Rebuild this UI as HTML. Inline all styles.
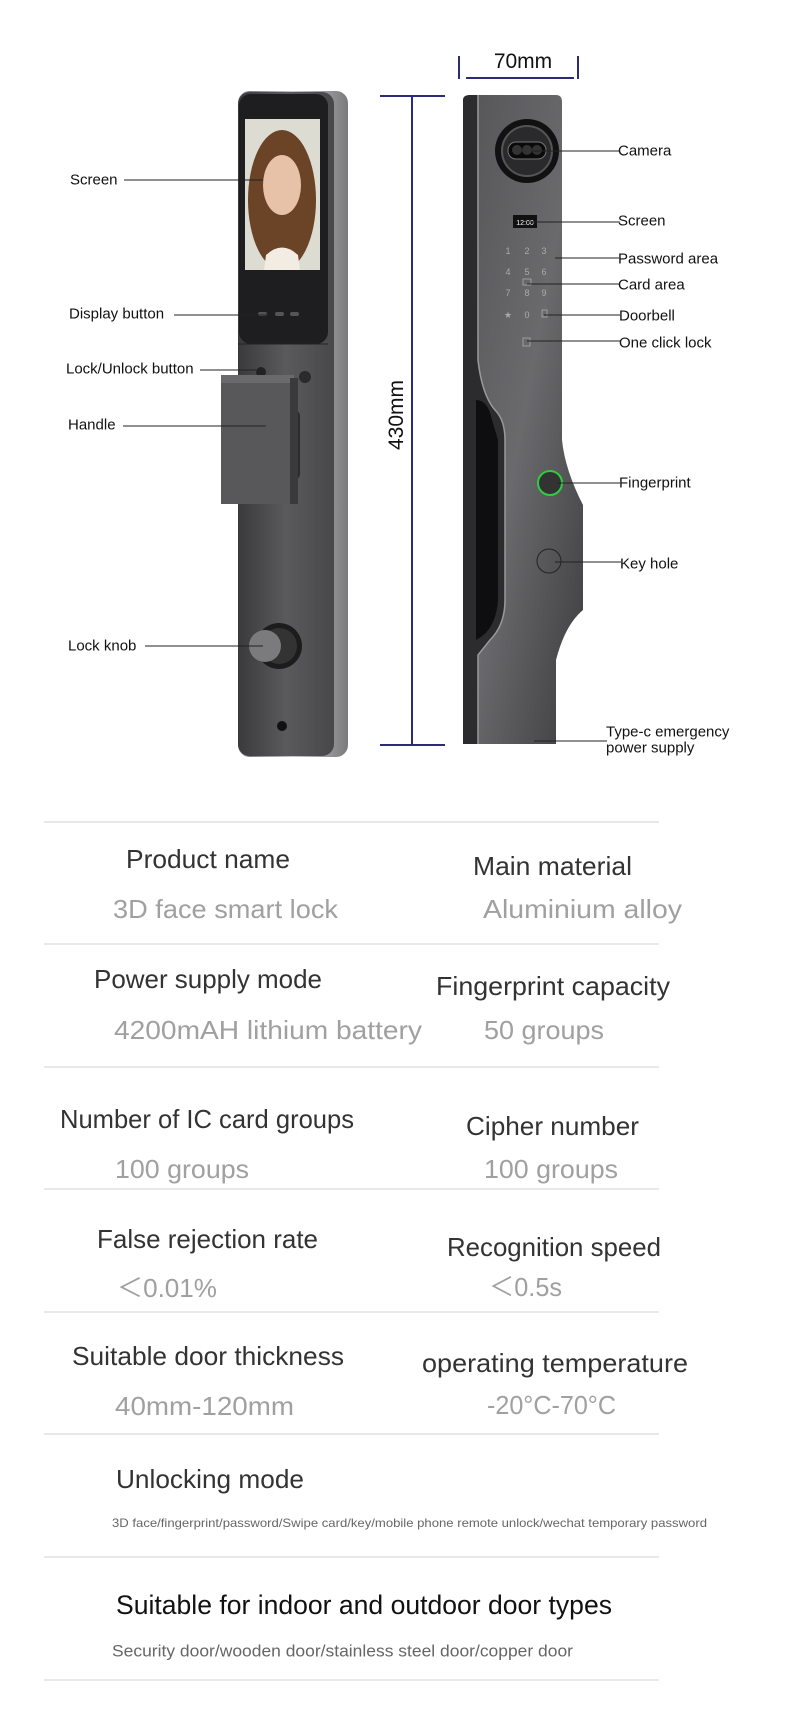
<!DOCTYPE html>
<html><head><meta charset="utf-8"><style>
html,body{margin:0;padding:0;background:#fff;}
svg{display:block;}
.l{font-family:"Liberation Sans",sans-serif;font-size:15px;fill:#111;}
.h{font-family:"Liberation Sans",sans-serif;font-size:26px;fill:#333;}
.v{font-family:"Liberation Sans","Noto Sans CJK SC",sans-serif;font-size:26px;fill:#a0a0a0;}
</style></head><body>
<svg width="790" height="1735" viewBox="0 0 790 1735" xmlns="http://www.w3.org/2000/svg">
<defs>
<linearGradient id="gl" x1="0" x2="1"><stop offset="0" stop-color="#3a3a3c"/><stop offset="0.5" stop-color="#5a5a5c"/><stop offset="1" stop-color="#48484a"/></linearGradient>
<linearGradient id="gr" x1="0" y1="0" x2="1" y2="1"><stop offset="0" stop-color="#555558"/><stop offset="0.5" stop-color="#6a6a6d"/><stop offset="1" stop-color="#3c3c3e"/></linearGradient>
<linearGradient id="rim" x1="0" x2="1"><stop offset="0" stop-color="#6e6e70"/><stop offset="0.5" stop-color="#c8c8ca"/><stop offset="1" stop-color="#7a7a7c"/></linearGradient>
</defs>

<!-- LEFT LOCK -->
<rect x="238" y="91" width="110" height="666" rx="12" fill="url(#rim)"/>
<rect x="238" y="92" width="96" height="664" rx="12" fill="url(#gl)"/>
<rect x="239" y="94" width="89" height="250" rx="12" fill="#1e1e20"/>
<rect x="245" y="119" width="75" height="151" fill="#dcdcd2"/>
<ellipse cx="282" cy="200" rx="34" ry="70" fill="#6b4326"/>
<ellipse cx="282" cy="185" rx="19" ry="30" fill="#e7c2a8"/>
<path d="M266 255 Q282 240 298 255 L300 270 L264 270Z" fill="#f2ece2"/>
<rect x="258" y="312" width="9" height="4" rx="2" fill="#555"/>
<rect x="275" y="312" width="9" height="4" rx="2" fill="#555"/>
<rect x="290" y="312" width="9" height="4" rx="2" fill="#555"/>
<line x1="238" y1="344" x2="328" y2="344" fill="none" stroke="#222" stroke-width="1"/>
<circle cx="261" cy="372" r="5" fill="#222"/>
<circle cx="305" cy="377" r="6" fill="#2a2a2a"/>
<rect x="284" y="410" width="16" height="70" rx="6" fill="#2c2c2e"/>
<rect x="221" y="375" width="73" height="129" fill="#58585a"/>
<rect x="221" y="375" width="73" height="8" fill="#6a6a6c"/>
<rect x="290" y="378" width="8" height="126" fill="#3a3a3c"/>
<circle cx="279" cy="646" r="23" fill="#1c1c1c"/>
<circle cx="279" cy="646" r="18" fill="#333"/>
<circle cx="265" cy="646" r="16" fill="#7b7b7d"/>
<circle cx="282" cy="726" r="5" fill="#111"/>

<!-- RIGHT LOCK -->
<path d="M470 95 L556 95 Q562 95 562 102 L562 440 Q565 470 583 505 L583 610 Q565 625 556 660 L556 744 L468 744 Q463 744 463 738 L463 102 Q463 95 470 95Z" fill="url(#gr)"/>
<path d="M463 100 Q463 95 470 95 L478 95 L478 360 Q482 395 495 410 Q505 420 505 440 L505 600 Q505 625 490 640 L478 655 L478 744 L463 744Z" fill="#2c2c2e"/>
<path d="M476 400 Q488 400 492 420 L498 440 L498 600 Q496 630 476 640Z" fill="#0e0e10"/>
<path d="M478 95 L478 360 Q482 395 495 410 Q505 420 505 440 L505 600 Q505 625 490 640 L478 655 L478 744" fill="none" stroke="#9a9a9c" stroke-width="1.5"/>
<circle cx="527" cy="151" r="32" fill="#111"/>
<circle cx="527" cy="151" r="25" fill="#2a2a2c" stroke="#555" stroke-width="2"/>
<rect x="508" y="142" width="38" height="17" rx="8" fill="#0a0a0a" stroke="#777"/>
<circle cx="517" cy="150" r="5" fill="#333"/><circle cx="527" cy="150" r="5" fill="#333"/><circle cx="537" cy="150" r="5" fill="#333"/>
<rect x="513" y="215" width="24" height="13" fill="#111"/>
<text x="525" y="225" text-anchor="middle" font-family="Liberation Sans,sans-serif" font-size="7" fill="#fff">12:00</text>
<g font-family="Liberation Sans,sans-serif" font-size="9" fill="#aaa" text-anchor="middle">
<text x="508" y="254">1</text><text x="527" y="254">2</text><text x="544" y="254">3</text>
<text x="508" y="275">4</text><text x="527" y="275">5</text><text x="544" y="275">6</text>
<text x="508" y="296">7</text><text x="527" y="296">8</text><text x="544" y="296">9</text>
<text x="508" y="318">★</text><text x="527" y="318">0</text></g>
<rect x="523" y="279" width="8" height="6" fill="none" stroke="#aaa" stroke-width="0.8"/>
<rect x="542" y="310" width="5" height="7" fill="none" stroke="#aaa" stroke-width="0.8"/>
<rect x="523" y="338" width="7" height="8" fill="none" stroke="#aaa" stroke-width="0.8"/>
<circle cx="550" cy="483" r="12" fill="#333" stroke="#2ecc40" stroke-width="2"/>
<circle cx="549" cy="561" r="12" fill="none" stroke="#222" stroke-width="1"/>

<!-- Dimensions -->
<g stroke="#2b2b7a" stroke-width="2" fill="none">
<line x1="459" y1="56" x2="459" y2="79"/><line x1="578" y1="56" x2="578" y2="79"/>
<line x1="466" y1="78" x2="574" y2="78"/>
<line x1="380" y1="96" x2="445" y2="96"/><line x1="380" y1="745" x2="445" y2="745"/>
<line x1="412" y1="96" x2="412" y2="745"/>
</g>
<text x="523" y="68" text-anchor="middle" font-family="Liberation Sans,sans-serif" font-size="21" fill="#111">70mm</text>
<text transform="translate(403,415) rotate(-90)" text-anchor="middle" font-family="Liberation Sans,sans-serif" font-size="21" fill="#111">430mm</text>

<!-- Labels -->
<g stroke="#222" stroke-width="1">
<line x1="124" y1="180" x2="263" y2="180"/>
<line x1="174" y1="315" x2="268" y2="315"/>
<line x1="200" y1="370" x2="256" y2="370"/>
<line x1="123" y1="426" x2="266" y2="426"/>
<line x1="145" y1="646" x2="263" y2="646"/>
<line x1="532" y1="151" x2="620" y2="151"/>
<line x1="527" y1="222" x2="620" y2="222"/>
<line x1="555" y1="258" x2="619" y2="258"/>
<line x1="527" y1="284" x2="619" y2="284"/>
<line x1="544" y1="315" x2="620" y2="315"/>
<line x1="527" y1="341" x2="620" y2="341"/>
<line x1="557" y1="483" x2="620" y2="483"/>
<line x1="555" y1="562" x2="621" y2="562"/>
<line x1="534" y1="741" x2="607" y2="741"/>
</g>
<g class="l" dominant-baseline="central">
<text x="70" y="180" class="l">Screen</text>
<text x="69" y="314" class="l">Display button</text>
<text x="66" y="369" class="l">Lock/Unlock button</text>
<text x="68" y="425" class="l">Handle</text>
<text x="68" y="646" class="l">Lock knob</text>
<text x="618" y="151" class="l">Camera</text>
<text x="618" y="221" class="l">Screen</text>
<text x="618" y="259" class="l">Password area</text>
<text x="618" y="285" class="l">Card area</text>
<text x="619" y="316" class="l">Doorbell</text>
<text x="619" y="343" class="l">One click lock</text>
<text x="619" y="483" class="l">Fingerprint</text>
<text x="620" y="564" class="l">Key hole</text>
<text x="606" y="732" class="l">Type-c emergency</text>
<text x="606" y="748" class="l">power supply</text>
</g>

<!-- Table -->
<g stroke="#d0d0d0" stroke-width="1">
<line x1="44" y1="822" x2="659" y2="822"/><line x1="44" y1="944" x2="659" y2="944"/>
<line x1="44" y1="1067" x2="659" y2="1067"/><line x1="44" y1="1189" x2="659" y2="1189"/>
<line x1="44" y1="1312" x2="659" y2="1312"/><line x1="44" y1="1434" x2="659" y2="1434"/>
<line x1="44" y1="1557" x2="659" y2="1557"/><line x1="44" y1="1680" x2="659" y2="1680"/>
</g>
<g dominant-baseline="central">
<text class="h" x="126" y="859" textLength="164" lengthAdjust="spacingAndGlyphs">Product name</text>
<text class="v" x="113" y="909" textLength="225" lengthAdjust="spacingAndGlyphs">3D face smart lock</text>
<text class="h" x="473" y="866" textLength="159" lengthAdjust="spacingAndGlyphs">Main material</text>
<text class="v" x="483" y="909" textLength="199" lengthAdjust="spacingAndGlyphs">Aluminium alloy</text>
<text class="h" x="94" y="979" textLength="228" lengthAdjust="spacingAndGlyphs">Power supply mode</text>
<text class="v" x="114" y="1030" textLength="308" lengthAdjust="spacingAndGlyphs">4200mAH lithium battery</text>
<text class="h" x="436" y="986" textLength="234" lengthAdjust="spacingAndGlyphs">Fingerprint capacity</text>
<text class="v" x="484" y="1030" textLength="120" lengthAdjust="spacingAndGlyphs">50 groups</text>
<text class="h" x="60" y="1119" textLength="294" lengthAdjust="spacingAndGlyphs">Number of IC card groups</text>
<text class="v" x="115" y="1169" textLength="134" lengthAdjust="spacingAndGlyphs">100 groups</text>
<text class="h" x="466" y="1126" textLength="173" lengthAdjust="spacingAndGlyphs">Cipher number</text>
<text class="v" x="484" y="1169" textLength="134" lengthAdjust="spacingAndGlyphs">100 groups</text>
<text class="h" x="97" y="1239" textLength="221" lengthAdjust="spacingAndGlyphs">False rejection rate</text>
<text class="v" x="117" y="1288" textLength="100" lengthAdjust="spacingAndGlyphs">＜0.01%</text>
<text class="h" x="447" y="1247" textLength="214" lengthAdjust="spacingAndGlyphs">Recognition speed</text>
<text class="v" x="489" y="1287" textLength="73" lengthAdjust="spacingAndGlyphs">＜0.5s</text>
<text class="h" x="72" y="1356" textLength="272" lengthAdjust="spacingAndGlyphs">Suitable door thickness</text>
<text class="v" x="115" y="1406" textLength="179" lengthAdjust="spacingAndGlyphs">40mm-120mm</text>
<text class="h" x="422" y="1363" textLength="266" lengthAdjust="spacingAndGlyphs">operating temperature</text>
<text class="v" x="487" y="1405" textLength="129" lengthAdjust="spacingAndGlyphs">-20°C-70°C</text>
<text class="h" x="116" y="1479" textLength="188" lengthAdjust="spacingAndGlyphs">Unlocking mode</text>
<text x="112" y="1523" font-family="Liberation Sans,sans-serif" font-size="12" fill="#666" textLength="595" lengthAdjust="spacingAndGlyphs">3D face/fingerprint/password/Swipe card/key/mobile phone remote unlock/wechat temporary password</text>
<text x="116" y="1605" font-family="Liberation Sans,sans-serif" font-size="27" fill="#111" textLength="496" lengthAdjust="spacingAndGlyphs">Suitable for indoor and outdoor door types</text>
<text x="112" y="1651" font-family="Liberation Sans,sans-serif" font-size="17" fill="#666" textLength="461" lengthAdjust="spacingAndGlyphs">Security door/wooden door/stainless steel door/copper door</text>
</g>
</svg>
</body></html>
